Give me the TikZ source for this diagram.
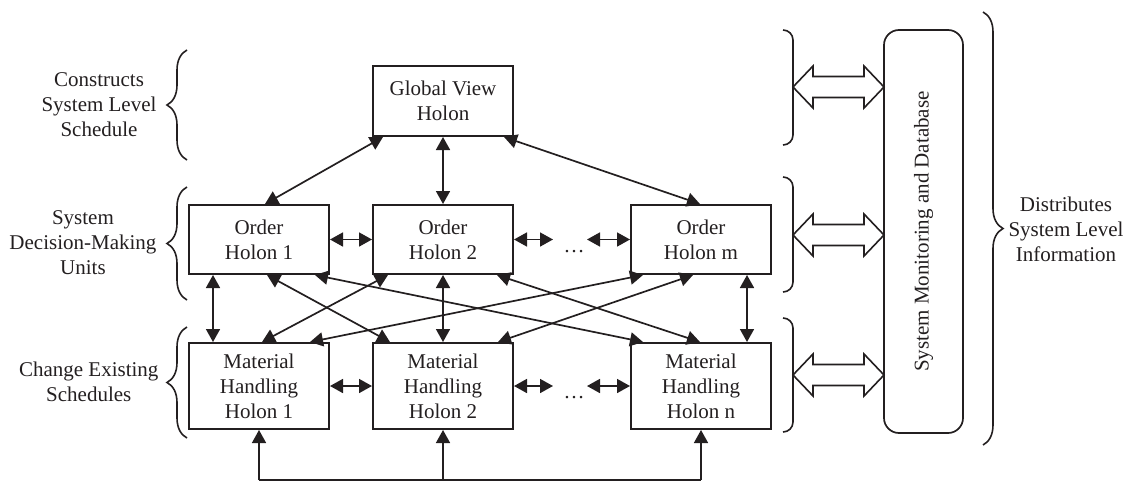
\documentclass[tikz,border=0pt]{standalone}
\usepackage{fontspec}
\setmainfont{Liberation Serif}
\usetikzlibrary{arrows.meta,decorations.pathreplacing,calc}
\definecolor{ink}{RGB}{35,31,32}
\begin{document}
\begin{tikzpicture}[x=1pt,y=-1pt,
  font=\fontsize{21}{25}\selectfont,
  holon/.style={draw=ink, line width=2pt, inner sep=0pt, align=center, text=ink,
                minimum width=140pt, anchor=north west},
  ordbox/.style={holon, minimum height=69pt},
  mhbox/.style={holon, minimum height=86pt},
  link/.style={draw=ink, line width=1.7pt,
     {Triangle[length=13pt,width=14pt]}-{Triangle[length=13pt,width=14pt]}},
  uplink/.style={draw=ink, line width=1.5pt, -{Triangle[length=13pt,width=14pt]}},
  feed/.style={draw=ink, line width=1.5pt},
  lbl/.style={align=center, text=ink},
  brc/.style={draw=ink, line width=1.6pt, decorate, decoration={brace, amplitude=20pt}},
  bkt/.style={draw=ink, line width=1.6pt, rounded corners=10pt},
  darrow/.style={draw=ink, line width=1.6pt, fill=white, line join=miter}
]
\useasboundingbox (0,0) rectangle (1133,482);

% holons
\node[holon, minimum height=70pt] (gv) at (372,65) {Global View\\Holon};
\node[ordbox] (oh1) at (188,204) {Order\\Holon 1};
\node[ordbox] (oh2) at (372,204) {Order\\Holon 2};
\node[ordbox] (ohm) at (630,204) {Order\\Holon m};
\node[mhbox] (mh1) at (188,342) {Material\\Handling\\Holon 1};
\node[mhbox] (mh2) at (372,342) {Material\\Handling\\Holon 2};
\node[mhbox] (mhn) at (630,342) {Material\\Handling\\Holon n};

% system monitoring
\node[draw=ink, line width=1.7pt, rounded corners=15pt, rotate=90, text=ink,
      minimum width=403pt, minimum height=79pt, inner sep=0pt] (sm) at (923.5,231.5)
      {System Monitoring and Database};

% dots
\node[text=ink, anchor=base, inner sep=0pt] (dots1) at (574,252) {…};
\node[text=ink, anchor=base, inner sep=0pt] (dots2) at (574,398) {…};
\coordinate (d1l) at (553,239);
\coordinate (d1r) at (587,239);
\coordinate (d2l) at (553,384);
\coordinate (d2r) at (587,384);

% global view links
\draw[link] ([xshift=11pt]gv.south west) -- ([xshift=77pt]oh1.north west);
\draw[link] (gv.south) -- (oh2.north);
\draw[link] ([xshift=-10pt]gv.south east) -- ([xshift=70pt]ohm.north west);

% horizontal links
\draw[link] (oh1.east) -- (oh2.west);
\draw[link] (oh2.east) -- (oh2.east -| d1l);
\draw[link] (ohm.west -| d1r) -- (ohm.west);
\draw[link] (mh1.east) -- (mh2.west);
\draw[link] (mh2.east) -- (mh2.east -| d2l);
\draw[link] (mhn.west -| d2r) -- (mhn.west);

% vertical links
\draw[link] ([xshift=25pt]oh1.south west) -- ([xshift=25pt]mh1.north west);
\draw[link] (oh2.south) -- (mh2.north);
\draw[link] ([xshift=117pt]ohm.south west) -- ([xshift=117pt]mhn.north west);

% cross links
\draw[link] ([xshift=79pt]oh1.south west) -- ([xshift=18pt]mh2.north west);
\draw[link] ([xshift=127pt]oh1.south west) -- ([xshift=13pt]mhn.north west);
\draw[link] ([xshift=16pt]oh2.south west) -- ([xshift=74pt]mh1.north west);
\draw[link] ([xshift=125pt]oh2.south west) -- ([xshift=70pt]mhn.north west);
\draw[link] ([xshift=13pt]ohm.south west) -- ([xshift=122pt]mh1.north west);
\draw[link] ([xshift=63pt]ohm.south west) -- ([xshift=126pt]mh2.north west);

% bottom feed
\coordinate (bl) at (0,480);
\draw[feed] (mh1.south |- bl) -- (mhn.south |- bl);
\draw[uplink] (mh1.south |- bl) -- (mh1.south);
\draw[uplink] (mh2.south |- bl) -- (mh2.south);
\draw[uplink] (mhn.south |- bl) -- (mhn.south);

% left braces and labels
\draw[brc] (187,160) -- (187,50);
\draw[brc] (187,300) -- (187,187);
\draw[brc] (187,438) -- (187,327);
\node[lbl, anchor=east] (lt1) at (160,105) {Constructs\\System Level\\Schedule};
\node[lbl, anchor=east] (lt2) at (160,243) {System\\Decision-Making\\Units};
\node[lbl, anchor=east] (lt3) at (162,382) {Change Existing\\Schedules};

% right brackets
\draw[bkt] (783,30) -- (793,30) -- (793,145) -- (783,145);
\draw[bkt] (783,177) -- (793,177) -- (793,292) -- (783,292);
\draw[bkt] (783,318) -- (793,318) -- (793,432) -- (783,432);

% double arrows
\foreach \c in {87,235,375}{
  \draw[darrow] (793,\c) -- (813,\c-21) -- (813,\c-10.5) -- (864,\c-10.5) -- (864,\c-21)
     -- (884,\c) -- (864,\c+21) -- (864,\c+10.5) -- (813,\c+10.5) -- (813,\c+21) -- cycle;
}

% big brace
\draw[brc] (983,12) -- (983,445);
\node[lbl, anchor=west] (rt) at (1005,229) {Distributes\\System Level\\Information};
\end{tikzpicture}
\end{document}
